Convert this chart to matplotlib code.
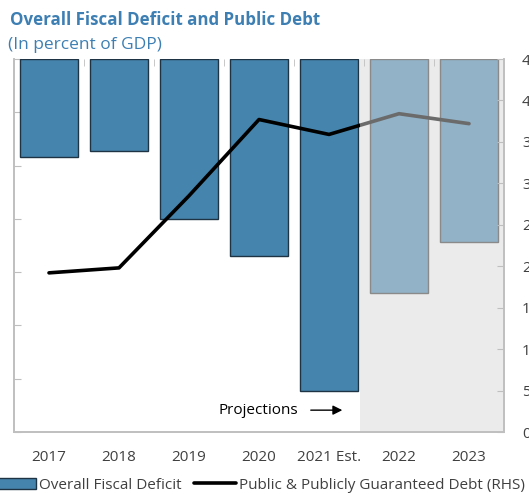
import matplotlib
matplotlib.use("Agg")
import matplotlib.pyplot as plt
from matplotlib.patches import Rectangle
import numpy as np

plt.rcParams['font.family'] = ['Open Sans', 'DejaVu Sans']

## data
years = ["2017", "2018", "2019", "2020", "2021 Est.", "2022", "2023"]
deficit = [-1.83, -1.72, -3.0, -3.70, -6.23, -4.39, -3.43]
debt = [19.2, 19.8, 28.5, 37.7, 35.9, 38.4, 37.2]
n_actual = 5          # first five are actual / estimate, rest projections
PROJ_START = 4.44     # where the grey projection band begins

DARK = "#4585ad"
LIGHT = "#91b2c7"
GREY_AX = "#bfbfbf"
TXT = "#404040"

fig = plt.figure(figsize=(5.29, 4.94), dpi=100)
ax = fig.add_axes([14 / 529, 62 / 494, 490 / 529, 373 / 494])
ax2 = ax.twinx()

x = np.arange(len(years))

ax.axvspan(PROJ_START, len(years) - 0.5, color="#ebebeb", zorder=0, lw=0)
bars = ax.bar(x[:n_actual], deficit[:n_actual], width=0.83, color=DARK,
              edgecolor="#1e3344", linewidth=1.0, zorder=2)
ax.bar(x[n_actual:], deficit[n_actual:], width=0.83, color=LIGHT,
       edgecolor="#8a8a8a", linewidth=1.0, zorder=2)

ax.set_xlim(-0.5, len(years) - 0.5)
ax.set_ylim(-7, 0)
ax.set_yticks(np.arange(-7, 1, 1))
ax.tick_params(axis="y", direction="in", length=5, color=GREY_AX, labelleft=False)
ax.set_xticks(x)
ax.set_xticklabels(years)
ax.tick_params(axis="x", which="major", length=0, pad=13, labelsize=11, labelcolor=TXT)
ax.set_xticks(x[:-1] + 0.5, minor=True)
ax.tick_params(axis="x", which="minor", top=True, bottom=False, direction="in",
               length=5, color=GREY_AX)

# debt line: black for actuals, grey inside the projection band
l1, = ax2.plot(x, debt, color="black", lw=2.6, solid_capstyle="round", zorder=5)
l2, = ax2.plot(x, debt, color="#6b6b6b", lw=2.6, solid_capstyle="round", zorder=5)
clip1 = Rectangle((-1, -10), PROJ_START + 1, 100, transform=ax2.transData)
clip2 = Rectangle((PROJ_START, -10), 10, 100, transform=ax2.transData)
l1.set_clip_path(clip1)
l2.set_clip_path(clip2)

ax2.set_ylim(0, 45)
ax2.set_yticks(np.arange(0, 50, 5))
ax2.tick_params(axis="y", direction="in", length=5, color=GREY_AX, pad=13,
                labelsize=11, labelcolor=TXT)

for a in (ax, ax2):
    a.spines["top"].set_visible(False)
    for s in ("left", "right", "bottom"):
        a.spines[s].set_color(GREY_AX)
        a.spines[s].set_linewidth(1.2)

ax.annotate("", xy=(4.23, -6.59), xytext=(3.7, -6.59),
            arrowprops=dict(arrowstyle="-|>", color="black", lw=1.0, mutation_scale=14))
ax.text(3.56, -6.59, "Projections", ha="right", va="center", fontsize=11, color="black")

fig.text(10 / 529, 1 - 20 / 494, "Overall Fiscal Deficit and Public Debt",
         fontsize=12.2, fontweight="bold", color="#3d7fb3", va="center")
fig.text(8 / 529, 1 - 45 / 494, "(In percent of GDP)",
         fontsize=12.5, color="#3d7fb3", va="center")

fig.legend([bars, l1], ["Overall Fiscal Deficit", "Public & Publicly Guaranteed Debt (RHS)"],
           loc="center", bbox_to_anchor=(0.49, 1 - 485 / 494), ncol=2, frameon=False,
           fontsize=11, labelcolor=TXT, handlelength=2.75, handletextpad=0.2,
           columnspacing=0.8)

fig.savefig("out.png", dpi=100)
